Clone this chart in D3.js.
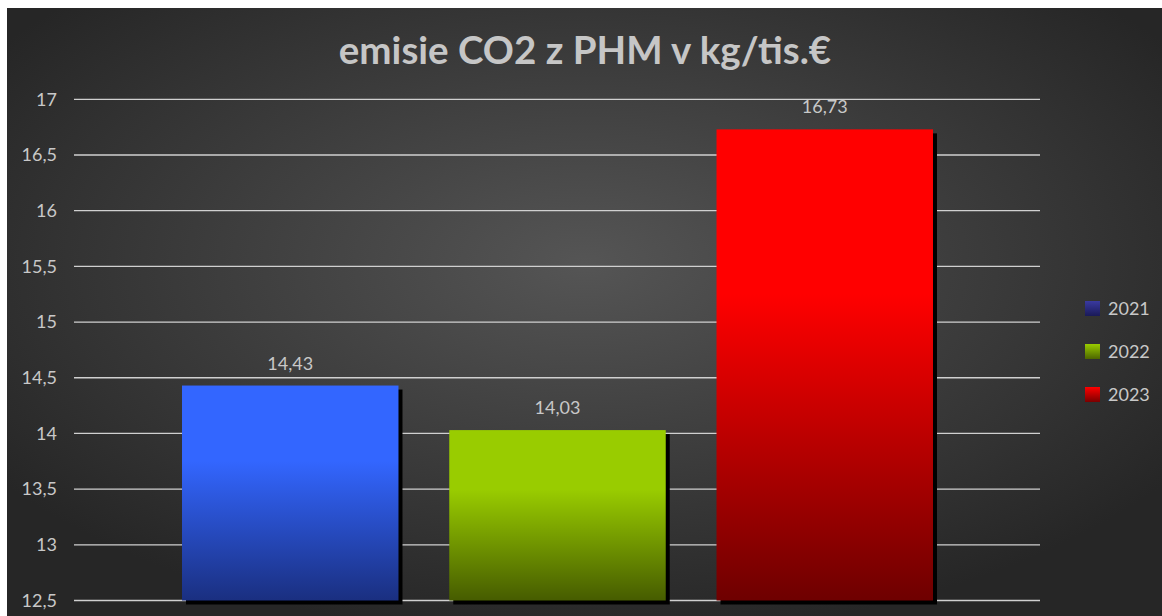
<!DOCTYPE html>
<html><head><meta charset="utf-8">
<script src="https://cdn.jsdelivr.net/npm/d3@7"></script>
<style>html,body{margin:0;padding:0;background:#fff;}svg{display:block;}</style>
</head><body>
<script>
const title = "emisie CO2 z PHM v kg/tis.€";
const series = ["2021", "2022", "2023"];
const values = [14.43, 14.03, 16.73];
const labels = ["14,43", "14,03", "16,73"];
const yTicks = [12.5, 13, 13.5, 14, 14.5, 15, 15.5, 16, 16.5, 17];
const barTop = ["#3366ff", "#99cc00", "#ff0000"];
const barBottom = ["#1a2f80", "#465c00", "#6e0000"];
const legTop = ["#3a3aa0", "#99cc00", "#ff0000"];
const legBottom = ["#1a1a58", "#4d6600", "#7a0000"];

const W = 1162, H = 616;
const svg = d3.select("body").append("svg").attr("width", W).attr("height", H);
const defs = svg.append("defs");
const bg = defs.append("radialGradient").attr("id","bg").attr("cx","0.5").attr("cy","0.42").attr("r","0.62")
  .attr("gradientUnits","objectBoundingBox");
bg.append("stop").attr("offset","0").attr("stop-color","#555555");
bg.append("stop").attr("offset","1").attr("stop-color","#262626");
series.forEach((s,i)=>{
  const g = defs.append("linearGradient").attr("id","bar"+i).attr("x1",0).attr("y1",0).attr("x2",0).attr("y2",1);
  g.append("stop").attr("offset","0").attr("stop-color",barTop[i]);
  g.append("stop").attr("offset","0.35").attr("stop-color",barTop[i]);
  g.append("stop").attr("offset","1").attr("stop-color",barBottom[i]);
  const l = defs.append("linearGradient").attr("id","leg"+i).attr("x1",0).attr("y1",0).attr("x2",0).attr("y2",1);
  l.append("stop").attr("offset","0").attr("stop-color",legTop[i]);
  l.append("stop").attr("offset","1").attr("stop-color",legBottom[i]);
});

svg.append("rect").attr("x",7).attr("y",8).attr("width",W-7).attr("height",H-8).attr("fill","url(#bg)");

const y = d3.scaleLinear().domain([12.5, 17]).range([600.5, 99.3]);
const x = d3.scaleBand().domain(series).range([182, 933]).paddingInner(0.19).paddingOuter(0);

// gridlines
svg.append("g").selectAll("line").data(yTicks).join("line")
  .attr("x1",74).attr("x2",1040)
  .attr("y1",d=>y(d)).attr("y2",d=>y(d))
  .attr("stroke","#d0d0d0").attr("stroke-width",1.3);

// y axis labels
const yAxis = d3.axisLeft(y).tickValues(yTicks).tickSize(0).tickPadding(0)
  .tickFormat(d=>String(d).replace(".",","));
const ya = svg.append("g").attr("transform","translate(57,0)").call(yAxis);
ya.select(".domain").remove();
ya.selectAll("text").attr("fill","#c8c8c8").style("font-family","Lato, 'Open Sans', sans-serif").style("font-size","18px");

// bars
const bars = svg.append("g");
series.forEach((s,i)=>{
  const bx = x(s), bw = x.bandwidth(), by = y(values[i]), bb = y(12.5);
  bars.append("rect").attr("x",bx+4).attr("y",by+4).attr("width",bw).attr("height",bb-by).attr("fill","#000");
  bars.append("rect").attr("x",bx).attr("y",by).attr("width",bw).attr("height",bb-by).attr("fill","url(#bar"+i+")");
  bars.append("text").attr("x",bx+bw/2).attr("y",by-16).attr("text-anchor","middle")
    .attr("fill","#c8c8c8").style("font-family","Lato, 'Open Sans', sans-serif").style("font-size","18px")
    .text(labels[i]);
});

// title
const t = svg.append("text").attr("x",585).attr("y",64).attr("text-anchor","middle")
  .attr("fill","#c6c6c6").style("font-family","Lato, 'Open Sans', sans-serif").style("font-weight","bold").style("font-size","33px")
  .text(title);
const tw = t.node().getComputedTextLength();
t.style("font-size", (33*492/tw).toFixed(1)+"px");

// legend
const lg = svg.append("g");
const legY = d3.scalePoint().domain(series).range([308.5, 394.5]);
series.forEach((s,i)=>{
  lg.append("rect").attr("x",1085).attr("y",legY(s)-7.5).attr("width",15).attr("height",15).attr("fill","url(#leg"+i+")");
  lg.append("text").attr("x",1108).attr("y",legY(s)+6.5).attr("fill","#c8c8c8")
    .style("font-family","Lato, 'Open Sans', sans-serif").style("font-size","18px").text(s);
});
</script>
</body></html>
